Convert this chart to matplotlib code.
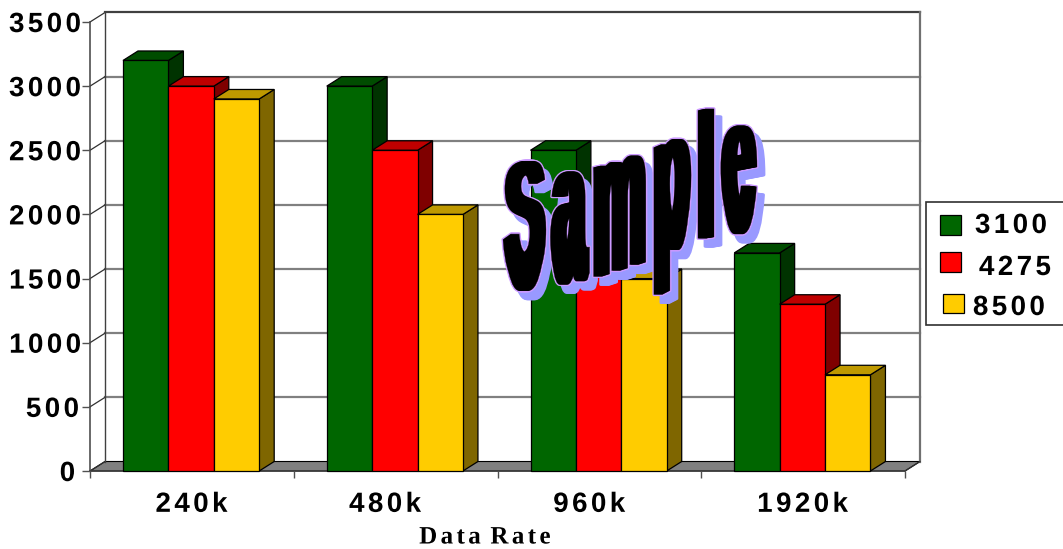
import numpy as np
import matplotlib
matplotlib.use('Agg')
import matplotlib.pyplot as plt
from matplotlib.colors import to_rgb
from matplotlib.patches import Polygon, Rectangle
from matplotlib.path import Path
from matplotlib.patheffects import AbstractPathEffect
from matplotlib.transforms import IdentityTransform

rates = ['240k', '480k', '960k', '1920k']
series_names = ['3100', '4275', '8500']
values_3100 = [3200, 3000, 2500, 1700]
values_4275 = [3000, 2500, 2000, 1300]
values_8500 = [2900, 2000, 1500, 750]
y_ticks = [0, 500, 1000, 1500, 2000, 2500, 3000, 3500]

front = ['#006600', '#ff0000', '#ffcc00']
top = ['#004c00', '#bf0000', '#bf9900']
side = ['#003300', '#7f0000', '#7f6600']

W, H = 1063, 549


def spread(v, c, px):
    # push each glyph right by px times its index, returns how far the last one went
    starts = list(np.where(c == Path.MOVETO)[0]) + [len(c)]
    subs = []
    for s, e in zip(starts[:-1], starts[1:]):
        real = v[s:e][c[s:e] != Path.CLOSEPOLY]
        subs.append((real[:, 0].min(), real[:, 0].max(), s, e))
    subs.sort()
    idx = -1
    right = -1e9
    for x0, x1, s, e in subs:
        if x0 > right:
            idx += 1
        right = max(right, x1)
        v[s:e, 0] += idx * px
    return idx * px


# Spreads the glyphs of a text apart, matplotlib has no letter spacing
class Tracked(AbstractPathEffect):
    def __init__(self, px, anchor='center', shift=0):
        super().__init__()
        self.px = px
        self.anchor = anchor
        self.shift = shift

    def draw_path(self, renderer, gc, tpath, affine, rgbFace=None):
        path = affine.transform_path(tpath)
        v = path.vertices.copy()
        c = path.codes
        total = spread(v, c, self.px)
        v[:, 0] += self.shift - (total if self.anchor == 'right' else total / 2)
        renderer.draw_path(gc, Path(v, c), IdentityTransform(), rgbFace)


# WordArt style envelope for the Sample stamp
class WordArt(AbstractPathEffect):
    def draw_path(self, renderer, gc, tpath, affine, rgbFace=None):
        path = affine.transform_path(tpath)
        v = path.vertices.copy()
        c = path.codes
        base = affine.transform((0, 0))[1]
        spread(v, c, 8)
        real = v[c != Path.CLOSEPOLY]
        x0, x1 = real[:, 0].min(), real[:, 0].max()
        cap = real[:, 1].max()
        u = (v[:, 0] - x0) / (x1 - x0)
        t = (v[:, 1] - base) / (cap - base)
        t = np.where(t > 0, np.abs(t) ** 0.65, t)
        y_base = np.interp(u, [0, .17, .35, .6, .75, 1], [292, 285, 278, 258, 240, 230])
        y_top = np.interp(u, [0, .1, .26, .46, .66, .8, .95, 1],
                          [162, 157, 148, 138, 118, 110, 103, 100])
        v[:, 0] = 507 + 246 * u
        v[:, 1] = H - (y_base + t * (y_top - y_base))
        # heavy strokes come from repeating the glyphs sideways
        offsets = [-4, -3, -2, -1, 0, 1, 2, 3, 4]
        layers = [(7, -8, 2.0, '#9999ff', '#9999ff'),
                  (0, 0, 2.2, '#cc99ff', '#cc99ff'),
                  (0, 0, 0.2, '#000000', '#000000')]
        for dx, dy, lw, edge, col in layers:
            for off in offsets:
                gc0 = renderer.new_gc()
                gc0.copy_properties(gc)
                gc0.set_linewidth(lw)
                gc0.set_foreground(edge)
                renderer.draw_path(gc0, Path(v + [dx + off, dy], c), IdentityTransform(), to_rgb(col))
                gc0.restore()


fig = plt.figure(figsize=(W / 100, H / 100), dpi=100, facecolor='white')
ax = fig.add_axes([90 / W, (H - 471) / H, 815 / W, 449 / H])
ax.set_xlim(0, 4)
ax.set_ylim(0, 3500)
ax.patch.set_visible(False)
for s in ['top', 'right']:
    ax.spines[s].set_visible(False)
for s in ['left', 'bottom']:
    ax.spines[s].set_color('#404040')
    ax.spines[s].set_linewidth(1.1)
    ax.spines[s].set_zorder(1)

# depth of the fake 3d box, in data units
dx = 15 / (815 / 4)
dy = 9.5 / (449 / 3500)
ymax = y_ticks[-1]

ax.add_patch(Polygon([(0, 0), (4, 0), (4 + dx, dy), (dx, dy)], fc='#808080', ec='black', lw=0.8, clip_on=False, zorder=0.5))
for t in y_ticks[1:-1]:
    ax.plot([dx, 4 + dx], [t + dy, t + dy], color='#808080', lw=1.6, clip_on=False, zorder=0.6)
for t in y_ticks:
    ax.plot([0, dx], [t, t + dy], color='#303030', lw=0.9, clip_on=False, zorder=0.7)
ax.plot([dx, 4 + dx], [ymax + dy, ymax + dy], color='#404040', lw=1.6, clip_on=False, zorder=0.7)
ax.plot([dx, dx], [0 + dy, ymax + dy], color='#404040', lw=1.0, clip_on=False, zorder=0.7)
ax.plot([4 + dx, 4 + dx], [0 + dy, ymax + dy], color='#707070', lw=1.6, clip_on=False, zorder=0.7)
ax.plot([4, 4 + dx], [0, dy], color='#303030', lw=0.9, clip_on=False, zorder=0.7)

all_values = [values_3100, values_4275, values_8500]
bar_w = 45.4 / (815 / 4)
start = 33 / (815 / 4)
for g in range(len(rates)):
    for i in range(3):
        val = all_values[i][g]
        x0 = g + start + i * bar_w
        x1 = x0 + bar_w
        z = 2 + g + i * 0.1
        ax.add_patch(Polygon([(x1, 0), (x1 + dx, dy), (x1 + dx, val + dy), (x1, val)],
                             fc=side[i], ec='black', lw=0.9, clip_on=False, zorder=z))
        ax.add_patch(Polygon([(x0, val), (x1, val), (x1 + dx, val + dy), (x0 + dx, val + dy)],
                             fc=top[i], ec='black', lw=0.9, clip_on=False, zorder=z))
        ax.bar(x0, val, bar_w, align='edge', color=front[i], edgecolor='black', lw=0.9, clip_on=False, zorder=z)

ax.set_yticks(y_ticks)
ax.set_yticklabels([str(t) for t in y_ticks], fontsize=20, fontweight='bold', family='Liberation Sans')
ax.tick_params(axis='y', length=6, width=1.0, color='#505050', pad=2.5)
label_shift = [-3, 1, 3, 3, 3, 3, 3, 3]
for lab, sh in zip(ax.get_yticklabels(), label_shift):
    lab.set_path_effects([Tracked(3.4, 'right', sh)])

ax.set_xticks(range(5))
ax.set_xticklabels([])
ax.tick_params(axis='x', which='major', length=5, width=1.0, color='#505050')
# the labels are not quite centred under their groups in the original
ax.set_xticks([0.498, 1.448, 2.45, 3.497], minor=True)
ax.set_xticklabels(rates, minor=True, fontsize=20, fontweight='bold', family='Liberation Sans')
ax.tick_params(axis='x', which='minor', length=0, pad=15)
for lab in ax.get_xticklabels(minor=True):
    lab.set_path_effects([Tracked(3.4)])

fig.text(485 / W, 1 - 537 / H, 'Data Rate', fontsize=18, fontweight='bold', family='Liberation Serif',
         ha='center', va='center', path_effects=[Tracked(3.4)])

# legend, hand placed since the entries are not lined up in the original
fig.add_artist(Rectangle((926 / W, 1 - 325 / H), 160 / W, 123 / H, transform=fig.transFigure,
                         fc='white', ec='#303030', lw=1.2))
swatch_x = [940, 940, 943]
swatch_y = [235, 272, 313]
label_x = [1011, 1015, 1009]
label_y = [226, 268, 308]
for i, name in enumerate(series_names):
    fig.add_artist(Rectangle((swatch_x[i] / W, 1 - swatch_y[i] / H), 21 / W, 19.5 / H, transform=fig.transFigure,
                             fc=front[i], ec='black', lw=0.9))
    fig.text(label_x[i] / W, 1 - label_y[i] / H, name, fontsize=20, fontweight='bold', family='Liberation Sans',
             ha='center', va='center', path_effects=[Tracked(3.4)])

fig.text(630 / W, 1 - 200 / H, 'Sample', fontsize=40, fontweight='bold', family='Liberation Sans',
         ha='center', va='center', zorder=20, path_effects=[WordArt()])

fig.savefig('out.png', dpi=100)
